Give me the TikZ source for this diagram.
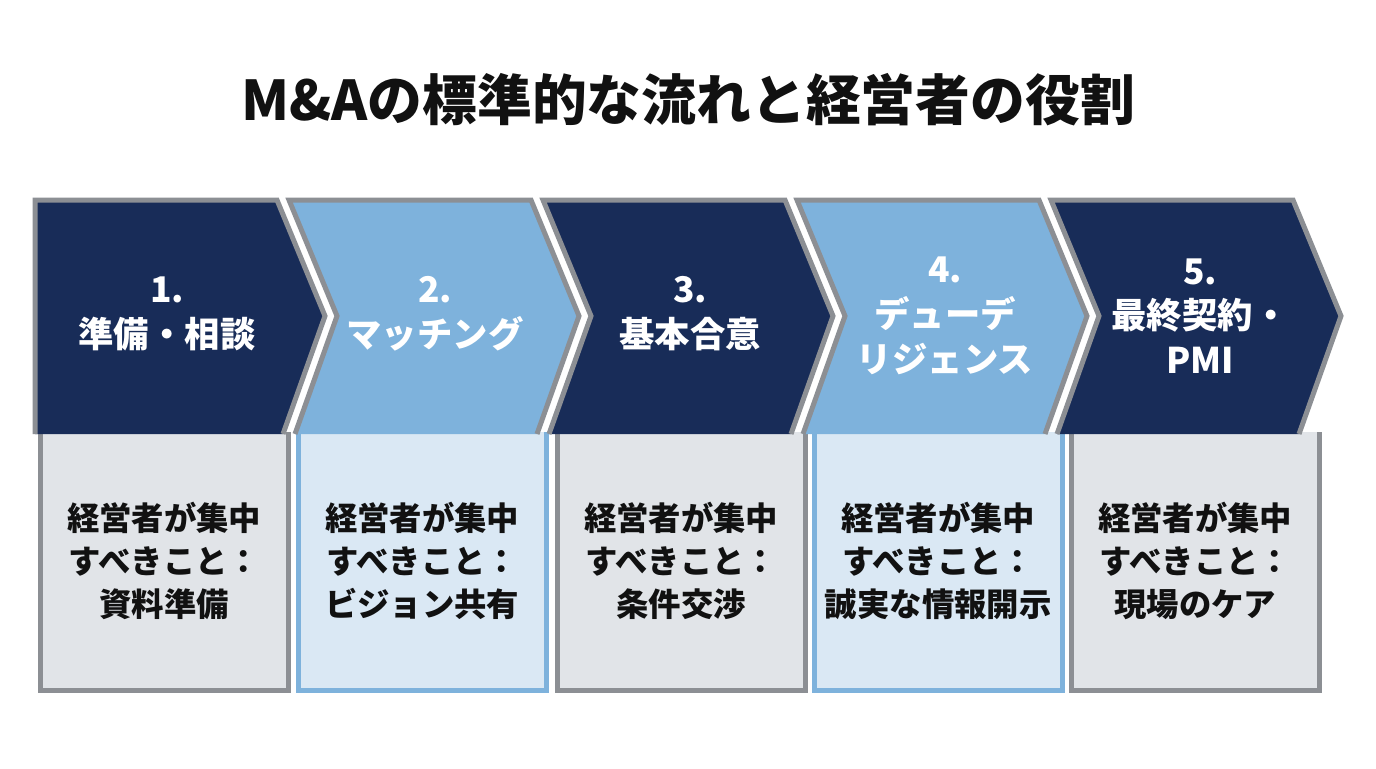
\documentclass[tikz,border=0pt]{standalone}
\usepackage{fontspec}
\setmainfont{Noto Sans CJK JP}
\definecolor{navy}{HTML}{182C58}
\definecolor{lblue}{HTML}{7EB2DC}
\definecolor{edgegray}{HTML}{8C8F94}
\definecolor{boxgray}{HTML}{E1E4E8}
\definecolor{boxblue}{HTML}{DAE8F4}
\definecolor{txt}{HTML}{111111}
\tikzset{
  chevtext/.style={text=white, font=\fontsize{35.5}{45}\selectfont\bfseries, align=center},
  boxtext/.style={text=txt, font=\fontsize{32.5}{43}\selectfont\bfseries, align=center},
  cardbox/.style={minimum width=248bp, minimum height=258bp, inner sep=0pt, anchor=north west},
  edge/.style={line width=5bp, line join=miter, miter limit=10}
}
\begin{document}
\begin{tikzpicture}[x=1bp,y=-1bp]
\useasboundingbox (0,0) rectangle (1376,768);
\fill[white] (0,0) rectangle (1376,768);
\node[text=txt, font=\fontsize{55}{66}\selectfont\bfseries] (title) at (688,100) {M\&Aの標準的な流れと経営者の役割};

% boxes
\foreach \x/\fc/\ec/\n in {40/boxgray/edgegray/b1, 298/boxblue/lblue/b2, 557/boxgray/edgegray/b3, 814/boxblue/lblue/b4, 1071/boxgray/edgegray/b5}{
  \node[cardbox, fill=\fc] (\n) at (\x,432) {};
  \draw[edge, draw=\ec] (\n.north west) -- (\n.south west) -- (\n.south east) -- (\n.north east);
}

% chevron 1
\fill[navy] (35,200) -- (277,200) -- (325,316) -- (283,434) -- (35,434) -- cycle;
\draw[edge, draw=edgegray] (35,434) -- (35,200) -- (277,200) -- (325,316) -- (283,434);
% chevrons 2-5
\foreach \L/\c in {289/lblue, 543/navy, 797/lblue, 1051/navy}{
  \fill[\c] (\L,200) -- (\L+242,200) -- (\L+290,316) -- (\L+248,434) -- (\L+6,434) -- (\L+48,316) -- cycle;
  \draw[edge, draw=edgegray] (\L+6,434) -- (\L+48,316) -- (\L,200) -- (\L+242,200) -- (\L+290,316) -- (\L+248,434);
}

\node[chevtext] (c1) at (167,314) {1.\\準備・相談};
\node[chevtext] (c2) at (435,314) {2.\\マッチング};
\node[chevtext] (c3) at (690,314) {3.\\基本合意};
\node[chevtext] (c4) at (945,316) {4.\\デューデ\\リジェンス};
\node[chevtext] (c5) at (1200,316) {5.\\最終契約・\\PMI};

\node[boxtext] (t1) at (b1.center) {経営者が集中\\すべきこと：\\資料準備};
\node[boxtext] (t2) at (b2.center) {経営者が集中\\すべきこと：\\ビジョン共有};
\node[boxtext] (t3) at (b3.center) {経営者が集中\\すべきこと：\\条件交渉};
\node[boxtext] (t4) at (b4.center) {経営者が集中\\すべきこと：\\誠実な情報開示};
\node[boxtext] (t5) at (b5.center) {経営者が集中\\すべきこと：\\現場のケア};
\end{tikzpicture}
\end{document}
